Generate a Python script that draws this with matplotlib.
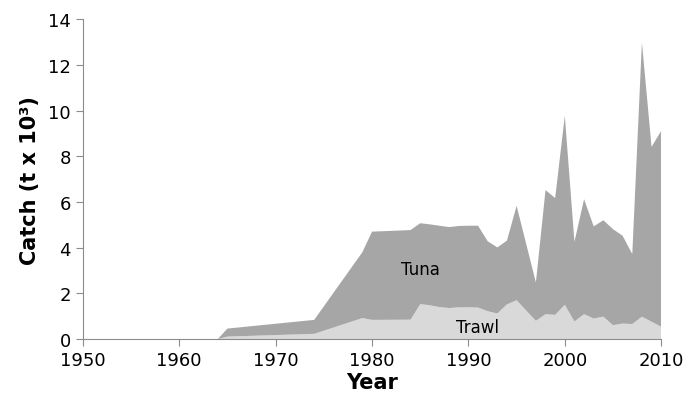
import matplotlib.pyplot as plt

years = [1964, 1965, 1974, 1979, 1980, 1984, 1985, 1986, 1987, 1988, 1989, 1990,
         1991, 1992, 1993, 1994, 1995, 1997, 1998, 1999, 2000, 2001, 2002, 2003,
         2004, 2005, 2006, 2007, 2008, 2009, 2010]
trawl = [0, 0.11, 0.23, 0.92, 0.84, 0.85, 1.53, 1.48, 1.40, 1.36, 1.39, 1.39,
         1.38, 1.22, 1.12, 1.52, 1.70, 0.80, 1.09, 1.06, 1.50, 0.77, 1.09, 0.90,
         0.98, 0.61, 0.68, 0.66, 0.98, 0.76, 0.54]
tuna = [0, 0.35, 0.61, 2.88, 3.86, 3.92, 3.54, 3.54, 3.56, 3.54, 3.56, 3.57,
        3.58, 3.06, 2.89, 2.79, 4.13, 1.68, 5.43, 5.11, 8.27, 3.49, 5.03, 4.03,
        4.22, 4.20, 3.84, 3.06, 12.00, 7.65, 8.57]

fig = plt.figure(figsize=(6.96, 4.02), dpi=100)
ax = fig.add_axes([0.119, 0.154, 0.831, 0.796])

ax.stackplot(years, trawl, tuna, colors=['#d9d9d9', '#a6a6a6'], linewidth=0)

ax.text(1985, 3.06, 'Tuna', fontsize=12, ha='center', va='center')
ax.text(1990.9, 0.52, 'Trawl', fontsize=12, ha='center', va='center')

ax.set_xlim(1950, 2010)
ax.set_ylim(0, 14)
ax.set_xticks(range(1950, 2011, 10))
ax.set_yticks(range(0, 15, 2))
for s in ['top', 'right']:
    ax.spines[s].set_visible(False)
for s in ['left', 'bottom']:
    ax.spines[s].set_color('#8c8c8c')
ax.tick_params(colors='#8c8c8c', labelcolor='black', labelsize=13, length=5, direction='out')

ax.set_xlabel('Year', fontsize=15, fontweight='bold', labelpad=2)
ax.set_ylabel('Catch (t x 10³)', fontsize=15, fontweight='bold', labelpad=6)

plt.savefig('out.png')
